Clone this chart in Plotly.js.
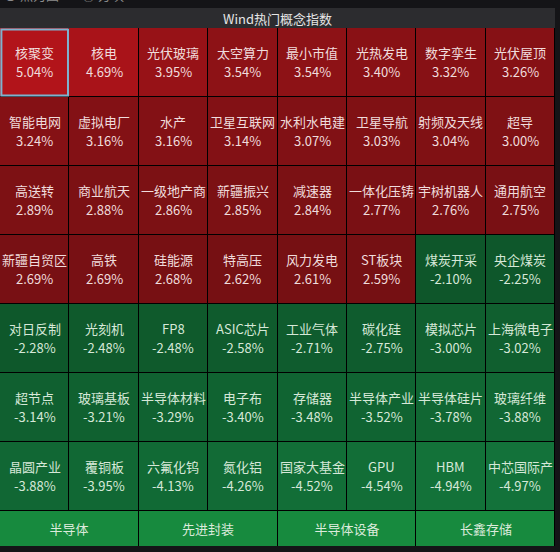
<!DOCTYPE html>
<html>
<head>
<meta charset="utf-8">
<script src="https://cdn.plot.ly/plotly-3.0.1.min.js"></script>
<style>
html,body{margin:0;padding:0;background:#141417;}
#chart{width:560px;height:552px;}
</style>
</head>
<body>
<div id="chart"></div>
<script>
var chartTitle = 'Wind热门概念指数';
var nCols = 8;
var conceptNames = [
  '核聚变','核电','光伏玻璃','太空算力','最小市值','光热发电','数字孪生','光伏屋顶',
  '智能电网','虚拟电厂','水产','卫星互联网','水利水电建','卫星导航','射频及天线','超导',
  '高送转','商业航天','一级地产商','新疆振兴','减速器','一体化压铸','宇树机器人','通用航空',
  '新疆自贸区','高铁','硅能源','特高压','风力发电','ST板块','煤炭开采','央企煤炭',
  '对日反制','光刻机','FP8','ASIC芯片','工业气体','碳化硅','模拟芯片','上海微电子',
  '超节点','玻璃基板','半导体材料','电子布','存储器','半导体产业','半导体硅片','玻璃纤维',
  '晶圆产业','覆铜板','六氟化钨','氮化铝','国家大基金','GPU','HBM','中芯国际产'
];
var conceptChanges = [
  5.04, 4.69, 3.95, 3.54, 3.54, 3.40, 3.32, 3.26,
  3.24, 3.16, 3.16, 3.14, 3.07, 3.03, 3.04, 3.00,
  2.89, 2.88, 2.86, 2.85, 2.84, 2.77, 2.76, 2.75,
  2.69, 2.69, 2.68, 2.62, 2.61, 2.59, -2.10, -2.25,
  -2.28, -2.48, -2.48, -2.58, -2.71, -2.75, -3.00, -3.02,
  -3.14, -3.21, -3.29, -3.40, -3.48, -3.52, -3.78, -3.88,
  -3.88, -3.95, -4.13, -4.26, -4.52, -4.54, -4.94, -4.97
];
var tabLabels = ['半导体','先进封装','半导体设备','长鑫存储'];
var selectedIndex = 0;

var FONT = '"Noto Sans CJK SC", "Noto Sans", sans-serif';
var nRows = Math.ceil(conceptNames.length / nCols);
var z = [], xs = [], ys = [];
for (var c = 0; c < nCols; c++) xs.push(c);
for (var r = 0; r < nRows; r++) {
  ys.push(r);
  var zr = [];
  for (var c2 = 0; c2 < nCols; c2++) zr.push(conceptChanges[r * nCols + c2]);
  z.push(zr);
}

var W = 560, H = 552;
var gridLeft = 0, gridRight = 555, gridTop = 28, gridBottom = 511;
var tabTop = 511, tabBottom = 546;

var heat = {
  type: 'heatmap',
  x: xs, y: ys, z: z,
  zmin: -5.04, zmax: 5.04,
  colorscale: [
    [0, '#13733a'],
    [0.30, '#0e552a'],
    [0.50, '#3a1a1a'],
    [0.748, '#731013'],
    [1, '#b2141a']
  ],
  showscale: false,
  xgap: 1, ygap: 1,
  hoverinfo: 'skip',
  xaxis: 'x', yaxis: 'y'
};

var tabs = {
  type: 'heatmap',
  x: tabLabels.map(function(_, k){return k;}),
  y: [0],
  z: [tabLabels.map(function(){return 1;})],
  text: [tabLabels],
  colorscale: [[0, '#178a3e'], [1, '#178a3e']],
  showscale: false,
  xgap: 1, ygap: 0,
  texttemplate: '%{text}',
  textfont: {family: FONT, size: 13, color: '#dcebdc'},
  hoverinfo: 'skip',
  xaxis: 'x2', yaxis: 'y2'
};

var annotations = [
  {text: chartTitle, xref: 'paper', yref: 'paper', x: (gridLeft + gridRight) / 2 / W, y: (H - 18) / H,
   xanchor: 'center', yanchor: 'middle', showarrow: false,
   font: {family: FONT, size: 13, color: '#e6e6e6'}},
  {text: '● 热力图', xref: 'paper', yref: 'paper', x: 2 / W, y: 1, yshift: 6,
   xanchor: 'left', yanchor: 'middle', showarrow: false,
   font: {family: FONT, size: 13, color: '#8c8c8c'}},
  {text: '○ 方块', xref: 'paper', yref: 'paper', x: 80 / W, y: 1, yshift: 6,
   xanchor: 'left', yanchor: 'middle', showarrow: false,
   font: {family: FONT, size: 13, color: '#8c8c8c'}}
];
for (var k = 0; k < conceptNames.length; k++) {
  var rr = Math.floor(k / nCols), cc = k % nCols;
  var v = conceptChanges[k];
  var col = v >= 0 ? '#f0dcdc' : '#d6e8d8';
  annotations.push({text: conceptNames[k], xref: 'x', yref: 'y', x: cc, y: rr, yshift: 10,
    xanchor: 'center', yanchor: 'middle', showarrow: false, font: {family: FONT, size: 13, color: col}});
  annotations.push({text: v.toFixed(2) + '%', xref: 'x', yref: 'y', x: cc, y: rr, yshift: -9,
    xanchor: 'center', yanchor: 'middle', showarrow: false, font: {family: FONT, size: 13, color: col}});
}

var selR = Math.floor(selectedIndex / nCols), selC = selectedIndex % nCols;

var layout = {
  width: W, height: H,
  margin: {l: 0, r: 0, t: 0, b: 0},
  paper_bgcolor: '#141417',
  plot_bgcolor: '#000000',
  showlegend: false,
  xaxis: {domain: [gridLeft / W, gridRight / W], range: [-0.5, nCols - 0.5], visible: false, fixedrange: true},
  yaxis: {domain: [(H - gridBottom) / H, (H - gridTop) / H], range: [nRows - 0.5, -0.5], visible: false, fixedrange: true},
  xaxis2: {domain: [gridLeft / W, gridRight / W], range: [-0.5, tabLabels.length - 0.5], visible: false, fixedrange: true, anchor: 'y2'},
  yaxis2: {domain: [(H - tabBottom) / H, (H - tabTop) / H], range: [-0.5, 0.5], visible: false, fixedrange: true, anchor: 'x2'},
  shapes: [
    {type: 'rect', xref: 'paper', yref: 'paper', x0: gridLeft / W, x1: gridRight / W,
     y0: (H - gridTop) / H, y1: (H - 8) / H, fillcolor: '#2c2c2f', line: {width: 0}, layer: 'below'},
    {type: 'rect', xref: 'x', yref: 'y', x0: selC - 0.5 + 0.02, x1: selC + 0.5 - 0.02,
     y0: selR - 0.5 + 0.02, y1: selR + 0.5 - 0.02, line: {color: '#7fb3cf', width: 2}, fillcolor: 'rgba(0,0,0,0)'}
  ],
  annotations: annotations
};

Plotly.newPlot('chart', [heat, tabs], layout, {displayModeBar: false, staticPlot: true});
</script>
</body>
</html>
